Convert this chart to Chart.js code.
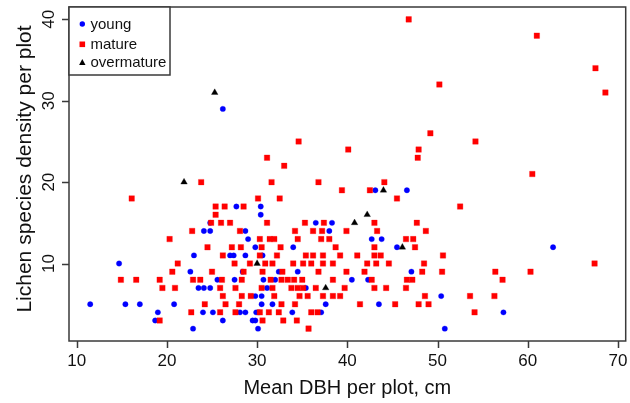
<!DOCTYPE html>
<html><head><meta charset="utf-8">
<script src="https://cdn.jsdelivr.net/npm/chart.js@4.4.1/dist/chart.umd.min.js"></script>
<style>html,body{margin:0;padding:0;background:#fff;}</style>
</head><body>
<canvas id="c" width="630" height="403"></canvas>
<script>
const seriesNames = ['young', 'mature', 'overmature'];
const xTicks = [10, 20, 30, 40, 50, 60, 70];
const yTicks = [10, 20, 30, 40];
const xTitle = 'Mean DBH per plot, cm';
const yTitle = 'Lichen species density per plot';

const youngX = [11.5,15.4,17.0,20.8,14.7,18.7,19.0,22.9,22.6,23.0,
  24.1,24.8,24.8,25.6,23.5,24.1,24.8,24.0,25.1,27.7,
  30.4,30.4,28.7,29.0,29.8,34.0,27.0,27.4,28.7,30.6,
  28.4,32.4,34.5,27.5,30.7,32.0,31.1,29.8,30.5,30.5,
  31.7,28.1,28.7,29.9,30.2,33.9,26.2,29.5,29.8,30.1,
  36.5,38.3,38.0,42.7,43.8,45.5,40.5,42.3,35.4,37.6,
  43.5,37.1,43.1,46.6,47.1,50.4,50.8,62.8,57.3,26.2];
const youngY = [5,5,5,5,10,3,4,2,9,11,
  14,14,15,8,7,7,7,4,4,17,
  17,16,14,13,12,12,11,11,11,11,
  9,9,9,8,8,8,7,6,6,5,
  5,4,4,4,4,4,3,3,3,2,
  15,15,14,13,13,12,8,8,7,5,
  5,4,19,19,9,6,2,12,4,29];

const matureX = [46.8,61.0,67.5,68.6,50.2,49.2,54.2,47.9,47.8,34.6,
  40.1,31.1,33.0,60.5,23.8,31.6,36.8,44.1,39.4,42.5,
  16.1,30.1,32.5,45.5,25.4,26.4,28.5,52.5,25.4,24.9,
  26.0,27.0,31.1,35.3,37.4,43.0,47.7,22.8,28.1,34.2,
  36.2,37.2,39.9,43.3,48.7,20.3,30.3,31.4,31.9,34.5,
  37.1,38.0,46.5,47.3,24.5,27.2,28.2,30.5,32.6,38.7,
  43.0,47.5,26.2,30.3,32.2,35.4,36.2,37.3,39.2,41.1,
  43.0,43.7,50.6,21.2,27.5,29.2,30.9,31.7,34.0,35.1,
  36.0,37.3,38.4,42.2,43.2,44.6,48.5,67.4,20.6,25.0,
  28.5,30.6,32.8,36.8,39.9,41.9,48.3,50.5,56.4,60.3,
  14.9,16.6,19.2,22.9,23.7,26.1,28.3,31.5,32.7,33.4,
  34.1,35.0,38.4,42.7,46.6,47.2,57.2,19.5,20.9,25.9,
  27.6,30.5,31.7,33.8,34.5,35.1,36.5,39.7,43.0,44.3,
  46.5,26.2,28.3,29.3,31.9,34.7,35.6,37.3,38.4,39.2,
  48.6,53.6,56.3,24.2,26.5,28.0,32.7,34.2,41.4,45.3,
  47.9,49.0,22.7,25.9,27.6,30.3,31.3,32.4,36.0,36.7,
  54.1,19.2,30.6,32.9,34.4,35.7];
const matureY = [40,38,34,31,32,26,25,24,23,25,
  24,23,22,21,20,20,20,20,19,19,
  18,18,18,18,17,17,17,17,16,15,
  15,15,15,15,15,15,15,14,14,14,
  14,14,14,14,14,13,13,13,13,13,
  13,13,13,13,12,12,12,12,12,12,
  12,12,11,11,11,11,11,11,11,11,
  11,11,11,10,10,10,10,10,10,10,
  10,10,10,10,10,10,10,10,9,9,
  9,9,9,9,9,9,9,9,9,9,
  8,8,8,8,8,8,8,8,8,8,
  8,8,8,8,8,8,8,7,7,7,
  7,7,7,7,7,7,7,7,7,7,
  7,6,6,6,6,6,6,6,6,6,
  6,6,6,5,5,5,5,5,5,5,
  5,5,4,4,4,4,4,4,4,4,
  4,3,3,3,3,2];

const overX = [21.9,25.3,44.0,42.2,40.8,46.1,30.0,37.6];
const overY = [20,31,19,16,15,12,10,7];

const toPts = (xs, ys) => xs.map((v, i) => ({x: v, y: ys[i]}));
const FONT = '"Liberation Sans", Arial, Helvetica, sans-serif';

const rStyle = {
  id: 'rStyle',
  afterDraw(chart) {
    const {ctx, chartArea: a, scales: {x, y}} = chart;
    ctx.save();
    // box
    ctx.strokeStyle = '#3a3a3a';
    ctx.lineWidth = 1.5;
    ctx.strokeRect(a.left, a.top, a.right - a.left, a.bottom - a.top);
    // ticks
    ctx.beginPath();
    xTicks.forEach(v => { const p = Math.round(x.getPixelForValue(v)) + 0.5; ctx.moveTo(p, a.bottom); ctx.lineTo(p, a.bottom + 7); });
    yTicks.forEach(v => { const p = Math.round(y.getPixelForValue(v)) + 0.5; ctx.moveTo(a.left, p); ctx.lineTo(a.left - 7, p); });
    ctx.stroke();
    // tick labels
    ctx.fillStyle = '#111';
    ctx.font = '17px ' + FONT;
    ctx.textAlign = 'center';
    ctx.textBaseline = 'middle';
    xTicks.forEach(v => ctx.fillText(String(v), x.getPixelForValue(v), 361));
    yTicks.forEach(v => {
      ctx.save(); ctx.translate(49, y.getPixelForValue(v)); ctx.rotate(-Math.PI / 2);
      ctx.fillText(String(v), 0, 0); ctx.restore();
    });
    // titles
    ctx.font = '20px ' + FONT;
    ctx.fillText(xTitle, (a.left + a.right) / 2, 388);
    ctx.font = '21px ' + FONT;
    ctx.save(); ctx.translate(25, 169); ctx.rotate(-Math.PI / 2);
    ctx.fillText(yTitle, 0, 0); ctx.restore();
    // legend
    const lx = a.left, ly = a.top, lw = 101, lh = 68;
    ctx.fillStyle = '#fff';
    ctx.fillRect(lx, ly, lw, lh);
    ctx.strokeStyle = '#3a3a3a';
    ctx.lineWidth = 1.5;
    ctx.strokeRect(lx, ly, lw, lh);
    const rows = [17, 37.3, 55.7];
    const sx = lx + 13.3;
    ctx.font = '15px ' + FONT;
    ctx.textAlign = 'left';
    chart.data.datasets.forEach((ds, i) => {
      const cy = ly + rows[i];
      ctx.fillStyle = ds.pointBackgroundColor;
      ctx.beginPath();
      if (ds.pointStyle === 'circle') { ctx.arc(sx, cy, 2.7, 0, Math.PI * 2); }
      else if (ds.pointStyle === 'rect') { ctx.rect(sx - 2.8, cy - 2.8, 5.6, 5.6); }
      else { ctx.moveTo(sx, cy - 3.6); ctx.lineTo(sx + 3.2, cy + 2.2); ctx.lineTo(sx - 3.2, cy + 2.2); ctx.closePath(); }
      ctx.fill();
      ctx.fillStyle = '#111';
      ctx.fillText(seriesNames[i], lx + 21.5, cy + 0.5);
    });
    ctx.restore();
  }
};

new Chart(document.getElementById('c'), {
  type: 'scatter',
  data: {
    datasets: [
      {label: seriesNames[0], data: toPts(youngX, youngY), pointStyle: 'circle', pointRadius: 2.7,
       pointBackgroundColor: '#0000ff', pointBorderColor: '#0000ff', pointBorderWidth: 0.3, order: 3},
      {label: seriesNames[1], data: toPts(matureX, matureY), pointStyle: 'rect', pointRadius: 3.9,
       pointBackgroundColor: '#ff0000', pointBorderColor: '#ff0000', pointBorderWidth: 0.3, order: 2},
      {label: seriesNames[2], data: toPts(overX, overY), pointStyle: 'triangle', pointRadius: 3.8,
       pointBackgroundColor: '#000000', pointBorderColor: '#000000', pointBorderWidth: 0.3, order: 1}
    ]
  },
  plugins: [rStyle],
  options: {
    responsive: false,
    animation: false,
    layout: {padding: {top: 7, right: 2, left: 0, bottom: 0}},
    plugins: {legend: {display: false}, tooltip: {enabled: false}},
    scales: {
      x: {type: 'linear', min: 9.15, max: 70.85, grid: {display: false}, border: {display: false},
          ticks: {display: false}, afterFit: s => { s.height = 62; }},
      y: {type: 'linear', min: 0.48, max: 41.52, grid: {display: false}, border: {display: false},
          ticks: {display: false}, afterFit: s => { s.width = 69; }}
    }
  }
});
</script>
</body></html>
